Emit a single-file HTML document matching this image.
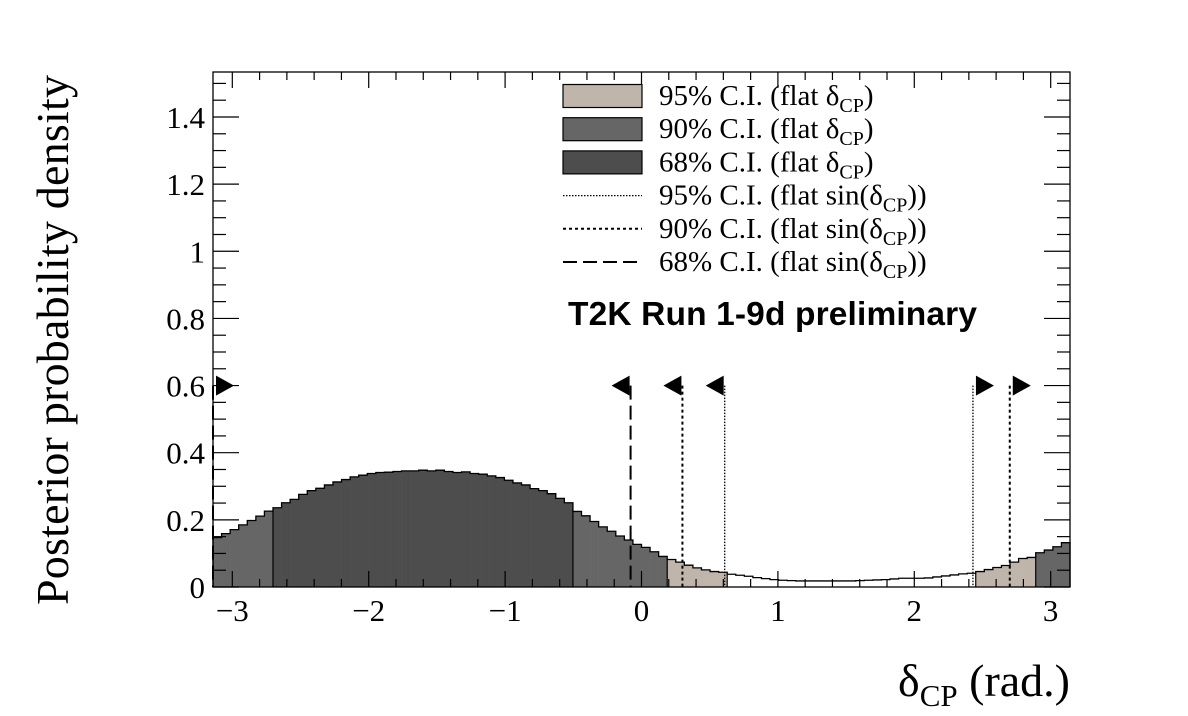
<!DOCTYPE html>
<html><head><meta charset="utf-8"><style>
html,body{margin:0;padding:0;background:#fff;}
svg{display:block;font-family:"Liberation Serif",serif;}
</style></head><body>
<svg id="chart" width="1188" height="716" viewBox="0 0 1188 716" xmlns="http://www.w3.org/2000/svg">
<g id="hist"></g>
<g id="intervals"></g>
<g id="axes"></g>
<g id="legend"></g>
<text x="568" y="325" font-family="Liberation Sans, sans-serif" font-weight="bold" font-size="33.5" textLength="409">T2K Run 1-9d preliminary</text>
<text transform="translate(68,340) rotate(-90)" text-anchor="middle" font-size="46" textLength="530">Posterior probability density</text>
<text x="1070" y="696" text-anchor="end" font-size="46">δ<tspan font-size="31" dy="10">CP</tspan><tspan dy="-10"> (rad.)</tspan></text>
</svg>
<script>
const binValues = [0.147,0.159,0.171,0.185,0.198,0.211,0.226,0.236,0.251,0.261,
0.276,0.287,0.294,0.304,0.313,0.320,0.328,0.333,0.338,0.341,
0.342,0.344,0.346,0.346,0.348,0.346,0.348,0.344,0.341,0.343,
0.338,0.336,0.331,0.326,0.318,0.310,0.304,0.293,0.287,0.278,
0.264,0.251,0.225,0.212,0.195,0.179,0.166,0.152,0.140,0.127,
0.118,0.105,0.091,0.082,0.074,0.065,0.057,0.051,0.046,0.044,
0.038,0.035,0.032,0.028,0.025,0.022,0.020,0.019,0.018,0.018,
0.018,0.018,0.018,0.018,0.018,0.019,0.020,0.021,0.022,0.024,
0.026,0.026,0.026,0.027,0.030,0.033,0.036,0.039,0.041,0.046,
0.052,0.058,0.064,0.074,0.085,0.088,0.102,0.110,0.120,0.132];
const binRegion = binValues.map((v,i)=> i<7?90:(i<42?68:(i<53?90:(i<60?95:(i<89?0:(i<96?95:90))))));
const sinIntervals = [
 {level:68, lo:-3.1416, hi:-0.08},
 {level:90, lo:2.70, hi:0.30},
 {level:95, lo:2.43, hi:0.61}];
const xTicks = [-3,-2,-1,0,1,2,3];
const yTicks = [0,0.2,0.4,0.6,0.8,1,1.2,1.4];
const legendLabels = ["95% C.I. (flat δ","90% C.I. (flat δ","68% C.I. (flat δ","95% C.I. (flat sin(δ","90% C.I. (flat sin(δ","68% C.I. (flat sin(δ"];

const X0=213,X1=1070,Y0=587,Y1=72,XMIN=-Math.PI,XMAX=Math.PI,YMAX=1.534;
const sx=v=>X0+(v-XMIN)/(XMAX-XMIN)*(X1-X0);
const sy=v=>Y0-v/YMAX*(Y0-Y1);
const NS="http://www.w3.org/2000/svg";
function mk(tag,attrs,parent){const e=document.createElementNS(NS,tag);for(const k in attrs)e.setAttribute(k,attrs[k]);parent.appendChild(e);return e;}
const fills={68:"#4d4d4d",90:"#666666",95:"#c0b5aa",0:"#ffffff"};
const hist=document.getElementById('hist');
const n=binValues.length,bw=(XMAX-XMIN)/n;
binValues.forEach((v,i)=>{
  const xa=sx(XMIN+i*bw),xb=sx(XMIN+(i+1)*bw);
  const r=mk('rect',{x:xa,y:sy(v),width:xb-xa+0.3,height:Y0-sy(v),fill:fills[binRegion[i]]},hist);
  
  
});
let d='M'+sx(XMIN)+','+Y0;
binValues.forEach((v,i)=>{d+=' L'+sx(XMIN+i*bw)+','+sy(v)+' L'+sx(XMIN+(i+1)*bw)+','+sy(v);});
d+=' L'+sx(XMAX)+','+Y0;
const ol=mk('path',{d:d,fill:'none',stroke:'#000','stroke-width':1.3},hist);


for(let i=1;i<n;i++){ if(binRegion[i]!==binRegion[i-1]){const x=sx(XMIN+i*bw);
 const l=mk('line',{x1:x,x2:x,y1:Y0,y2:sy(Math.min(binValues[i],binValues[i-1])),stroke:'#000','stroke-width':1.2},hist);
 
 }}
const dash={68:"14,6",90:"3,3",95:"1.5,1.5"};
const sw={68:2,90:2,95:1.3};
const iv=document.getElementById('intervals');
const arrowY=0.6;
sinIntervals.forEach(s=>{
 [[s.lo,1],[s.hi,-1]].forEach(([v,dir])=>{
  const x=sx(v),yt=sy(arrowY);
  const l=mk('line',{x1:x,x2:x,y1:yt,y2:Y0,stroke:'#000','stroke-width':sw[s.level],'stroke-dasharray':dash[s.level]},iv);
  
  
  const xa = dir>0? x+3 : x-1;
  const tip = dir>0 ? xa+18 : xa-18;
  const p=mk('polygon',{points:`${xa},${yt-10} ${xa},${yt+10} ${tip},${yt}`,fill:'#000'},iv);
  
  
 });
});
const ax=document.getElementById('axes');
const fr=mk('rect',{x:X0,y:Y1,width:X1-X0,height:Y0-Y1,fill:'none',stroke:'#000','stroke-width':1.3},ax);


for(let k=-16;k<=16;k++){const v=k*0.2;if(v<XMIN||v>XMAX)continue;const x=sx(v);const major=k%5===0;const L=major?16:8;
 mk('line',{x1:x,x2:x,y1:Y0,y2:Y0-L,stroke:'#000','stroke-width':1.2},ax);
 mk('line',{x1:x,x2:x,y1:Y1,y2:Y1+L,stroke:'#000','stroke-width':1.2},ax);}
for(let k=0;k<=30;k++){const v=k*0.05;if(v>YMAX)continue;const y=sy(v);const major=k%4===0;const L=major?26:13;
 mk('line',{x1:X0,x2:X0+L,y1:y,y2:y,stroke:'#000','stroke-width':1.2},ax);
 mk('line',{x1:X1,x2:X1-L,y1:y,y2:y,stroke:'#000','stroke-width':1.2},ax);}
xTicks.forEach(v=>{const t=mk('text',{x:sx(v),y:621,'text-anchor':'middle','font-size':31},ax);t.textContent=(v<0?'\u2212'+(-v):v);
 
 });
yTicks.forEach(v=>{const t=mk('text',{x:205,y:sy(v)+11,'text-anchor':'end','font-size':31},ax);t.textContent=String(v);
 
 });
const lg=document.getElementById('legend');
const legFill=["#c0b5aa","#666666","#4d4d4d"];
const legDash=["1.5,1.5","3,3","14,6"];
legendLabels.forEach((lab,i)=>{
 const yc=96+i*33.2;
 if(i<3){const r=mk('rect',{x:563,y:yc-11.5,width:79,height:23,fill:legFill[i],stroke:'#000','stroke-width':1.2},lg);
  
  }
 else{const l=mk('line',{x1:563,x2:642,y1:yc,y2:yc,stroke:'#000','stroke-width':i===3?1.2:2,'stroke-dasharray':legDash[i-3]},lg);
  
  }
 const t=mk('text',{x:659,y:yc+9,'font-size':29},lg);
 
 
 t.appendChild(document.createTextNode(lab));
 const ts=mk('tspan',{'font-size':20,dy:7},t);ts.textContent='CP';
 const te=mk('tspan',{dy:-7},t);te.textContent=i<3?')':'))';
});
</script>
</body></html>
